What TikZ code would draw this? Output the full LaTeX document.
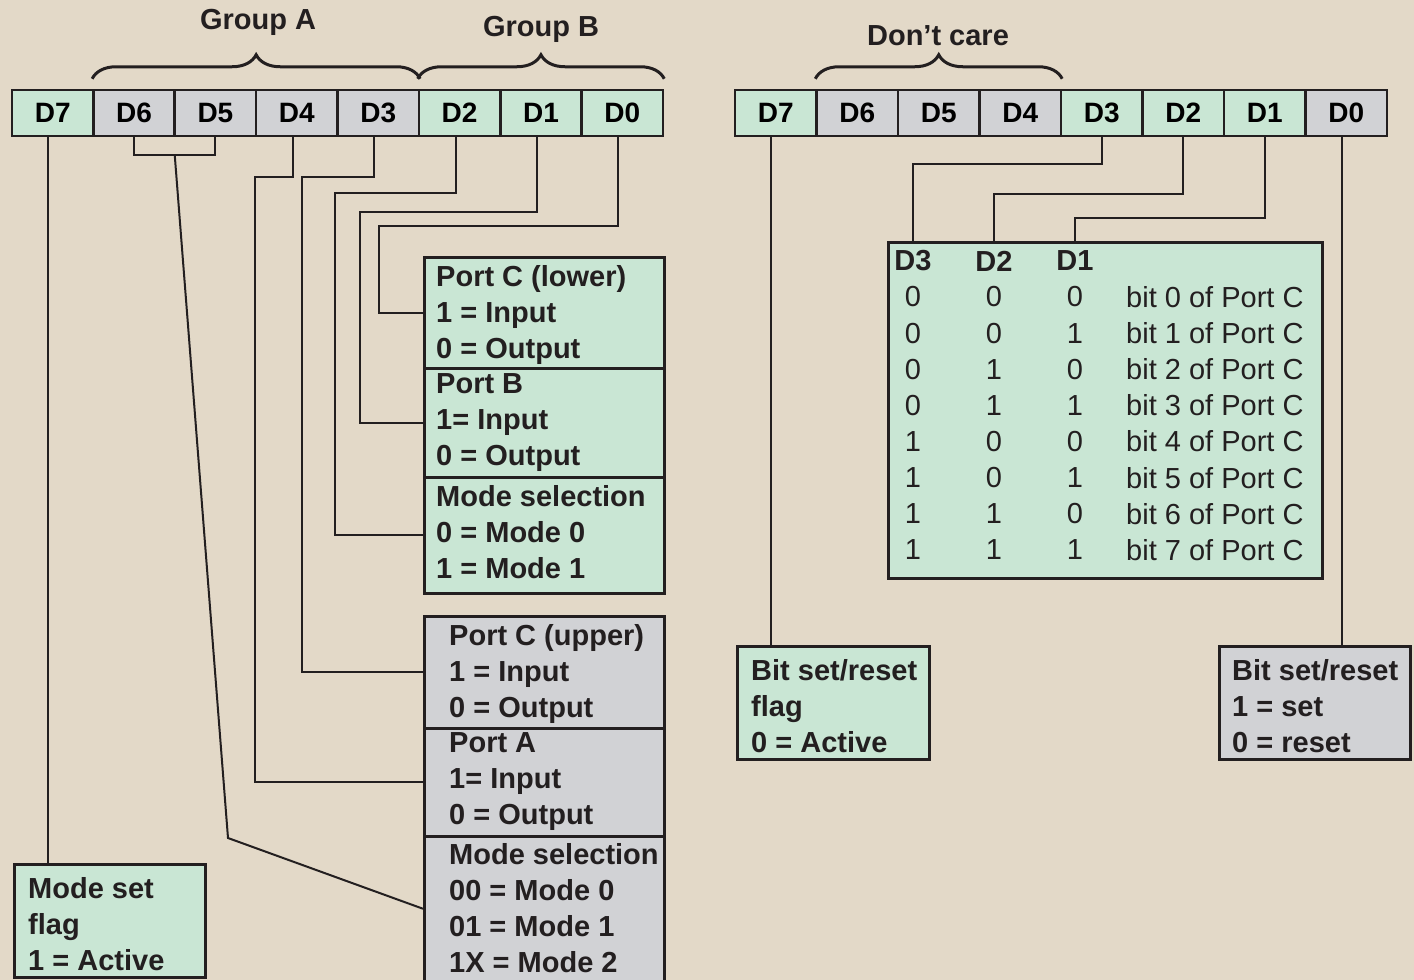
\documentclass[tikz,border=0pt]{standalone}
\usepackage{fontspec}
\setmainfont{Liberation Sans}
\usetikzlibrary{decorations.pathreplacing,calc}
\definecolor{bgc}{HTML}{E3D9C8}
\definecolor{gfill}{HTML}{C9E6D4}
\definecolor{gyfill}{HTML}{D1D2D5}
\definecolor{ink}{HTML}{231F20}
\begin{document}
\begin{tikzpicture}[x=1pt,y=-1pt,
  cellg/.style={draw=ink, line width=2.5pt, fill=gfill, minimum width=81.4pt, minimum height=46pt, inner sep=0pt, font=\fontsize{28}{34}\selectfont\bfseries},
  cellgy/.style={cellg, fill=gyfill},
  boxg/.style={draw=ink, line width=2.5pt, fill=gfill, anchor=north west, inner sep=0pt},
  boxgy/.style={boxg, fill=gyfill},
  txt/.style={anchor=west, align=left, inner sep=0pt, text=ink, font=\fontsize{29}{36}\selectfont\bfseries},
  conn/.style={draw=ink, line width=2pt},
  brc/.style={draw=ink, line width=3pt, decorate, decoration={brace, amplitude=24pt}},
  lbl/.style={font=\fontsize{29}{36}\selectfont\bfseries, inner sep=0pt, text=ink},
  tnum/.style={font=\fontsize{29}{36}\selectfont, inner sep=0pt, text=ink},
]
\useasboundingbox (0,0) rectangle (1414,980);
\fill[bgc] (0,0) rectangle (1414,980);

% ---- left register
\node[cellg]  (L7) at (52.7,113)  {D7};
\node[cellgy] (L6) at (134.1,113) {D6};
\node[cellgy] (L5) at (215.4,113) {D5};
\node[cellgy] (L4) at (296.8,113) {D4};
\node[cellgy] (L3) at (378.2,113) {D3};
\node[cellg]  (L2) at (459.6,113) {D2};
\node[cellg]  (L1) at (541.0,113) {D1};
\node[cellg]  (L0) at (622.3,113) {D0};

% ---- right register
\node[cellg]  (R7) at (775.75,113)  {D7};
\node[cellgy] (R6) at (857.25,113)  {D6};
\node[cellgy] (R5) at (938.75,113)  {D5};
\node[cellgy] (R4) at (1020.25,113) {D4};
\node[cellg]  (R3) at (1101.75,113) {D3};
\node[cellg]  (R2) at (1183.25,113) {D2};
\node[cellg]  (R1) at (1264.75,113) {D1};
\node[cellgy] (R0) at (1346.25,113) {D0};

% ---- braces and group labels
\draw[brc] ([yshift=10pt]L6.north west) -- ([yshift=10pt]L3.north east);
\draw[brc] ([yshift=10pt]L2.north west) -- ([yshift=10pt]L0.north east);
\draw[brc] ([yshift=10pt]R6.north west) -- ([yshift=10pt]R4.north east);
\node[lbl] (gA) at (258,22) {Group A};
\node[lbl] (gB) at (541,29) {Group B};
\node[lbl] (dc) at (938,36) {Don’t care};

% ---- left boxes
\node[boxg, minimum width=240pt, minimum height=111pt] (pcl) at (423,256) {};
\node[boxg, minimum width=240pt, minimum height=109pt] (pb)  at (423,367) {};
\node[boxg, minimum width=240pt, minimum height=116pt] (msB) at (423,476) {};
\node[boxgy, minimum width=240pt, minimum height=112pt] (pcu) at (423,615) {};
\node[boxgy, minimum width=240pt, minimum height=108pt] (pa)  at (423,727) {};
\node[boxgy, minimum width=240pt, minimum height=145pt] (msA) at (423,835) {};
\node[boxg, minimum width=191pt, minimum height=113pt] (msf) at (13,863) {};

\node[txt] (tpcl) at (436,315) {Port C (lower)\\1 = Input\\0 = Output};
\node[txt] (tpb)  at (436,423) {Port B\\1= Input\\0 = Output};
\node[txt] (tmsB) at (436,532) {Mode selection\\0 = Mode 0\\1 = Mode 1};
\node[txt] (tpcu) at (449,674) {Port C (upper)\\1 = Input\\0 = Output};
\node[txt] (tpa)  at (449,782) {Port A\\1= Input\\0 = Output};
\node[txt] (tmsA) at (449,908) {Mode selection\\00 = Mode 0\\01 = Mode 1\\1X = Mode 2};
\node[txt] (tmsf) at (28,924)  {Mode set\\flag\\1 = Active};

% ---- right boxes
\node[boxg, minimum width=192pt, minimum height=113pt] (bsf) at (736,645) {};
\node[boxgy, minimum width=191pt, minimum height=113pt] (bsr) at (1218,645) {};
\node[txt] (tbsf) at (751,706)  {Bit set/reset\\flag\\0 = Active};
\node[txt] (tbsr) at (1232,706) {Bit set/reset\\1 = set\\0 = reset};

\node[boxg, minimum width=434pt, minimum height=336pt] (tbl) at (887,241) {};
\node[lbl] (h3) at (913,261)  {D3};
\node[lbl] (h2) at (994,261)  {D2};
\node[lbl] (h1) at (1075,261) {D1};
\foreach \i/\a/\b/\c in {0/0/0/0,1/0/0/1,2/0/1/0,3/0/1/1,4/1/0/0,5/1/0/1,6/1/1/0,7/1/1/1}{
  \node[tnum] (va\i) at (913,{297+36.14*\i})  {\a};
  \node[tnum] (vb\i) at (994,{297+36.14*\i})  {\b};
  \node[tnum] (vc\i) at (1075,{297+36.14*\i}) {\c};
  \node[tnum, anchor=west] (vt\i) at (1126,{297+36.14*\i}) {bit \i\ of Port C};
}

% ---- left connectors
\draw[conn] ([xshift=-4pt]L0.south) |- (379,226) |- (pcl.west);
\draw[conn] ([xshift=-4pt]L1.south) |- (360,212) |- (pb.west);
\draw[conn] ([xshift=-4pt]L2.south) |- (335,193) |- (msB.west);
\draw[conn] ([xshift=-4pt]L3.south) |- (302,177) |- (pcu.west);
\draw[conn] ([xshift=-4pt]L4.south) |- (255,177) |- (pa.west);
\draw[conn] ([xshift=-5pt]L7.south) coordinate (l7s) -- (l7s |- msf.north);
\draw[conn] (L6.south) -- ++(0,18) coordinate (b6) -| (L5.south);
\coordinate (m65) at ($(b6)!0.5!(L5.south |- b6)$);
\coordinate (kink) at (228,838);
\draw[conn] (m65) -- (kink) -- (msA.west);

% ---- right connectors
\draw[conn] (R3.south) |- (913,164) -- (h3 |- tbl.north);
\draw[conn] (R2.south) |- (994,194) -- (h2 |- tbl.north);
\draw[conn] (R1.south) |- (1075,218) -- (h1 |- tbl.north);
\draw[conn] ([xshift=-5pt]R7.south) coordinate (r7s) -- (r7s |- bsf.north);
\draw[conn] ([xshift=-4pt]R0.south) coordinate (r0s) -- (r0s |- bsr.north);
\end{tikzpicture}
\end{document}
